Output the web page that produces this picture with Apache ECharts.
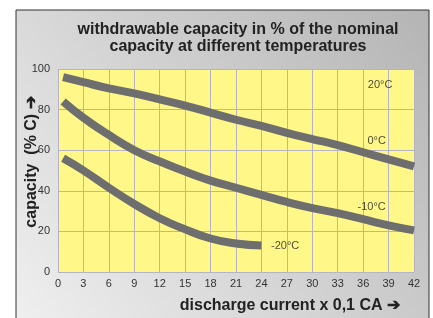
<!DOCTYPE html>
<html>
<head>
<meta charset="utf-8">
<script src="https://cdn.jsdelivr.net/npm/echarts@6/dist/echarts.min.js"></script>
<style>
html, body { margin: 0; padding: 0; background: #fff; }
#chart { width: 433px; height: 318px; }
</style>
</head>
<body>
<div id="chart"></div>
<script>
var xTicks = [0, 3, 6, 9, 12, 15, 18, 21, 24, 27, 30, 33, 36, 39, 42];
var yTicks = [0, 20, 40, 60, 80, 100];

// capacity curves: [discharge current, capacity %]
var curveA = [[0.6, 96], [3, 93.5], [6, 90.5], [9, 88], [12, 85], [15, 82], [18, 78.5], [21, 75],
    [24, 72], [27, 68.5], [30, 65.5], [33, 62.5], [36, 59], [39, 55.5], [42, 52]];
var curveB = [[0.6, 84], [3, 76], [6, 67.5], [9, 60], [12, 54.5], [15, 49.5], [18, 45], [21, 41.5],
    [24, 38], [27, 34.5], [30, 31.5], [33, 29], [36, 26], [39, 23], [42, 20.5]];
var curveC = [[0.6, 56], [3, 50], [6, 41.5], [9, 33.5], [12, 26.5], [15, 21], [18, 16.5], [21, 14], [24, 13]];

var tempLabels = ['20°C', '0°C', '-10°C', '-20°C'];
var labelX = [38, 37.6, 37, 26.8];
var labelY = [92, 64.5, 32, 12.8];

var labelData = tempLabels.map(function (t, i) { return [labelX[i], labelY[i], t]; });

var myChart = echarts.init(document.getElementById('chart'));
var lineStyle = { color: '#6e6e6e', width: 8, cap: 'butt' };

option = {
    animation: false,
    graphic: [{
        type: 'rect',
        z: -10,
        shape: { x: 16, y: 10, width: 413, height: 320 },
        style: {
            stroke: '#333',
            lineWidth: 1,
            fill: new echarts.graphic.LinearGradient(0, 1, 1, 0, [
                { offset: 0, color: '#f0f0f0' },
                { offset: 1, color: '#b4b4b4' }
            ])
        }
    }, {
        // yellow plot area
        type: 'rect',
        z: -5,
        shape: { x: 58, y: 69, width: 356, height: 203 },
        style: { fill: '#fff889' }
    }, {
        type: 'text',
        x: 32,
        y: 162,
        rotation: Math.PI / 2,
        style: {
            text: 'capacity  (% C) ➔',
            font: 'bold 16px "Liberation Sans"',
            fill: '#222',
            align: 'center',
            verticalAlign: 'middle'
        }
    }],
    title: {
        text: 'withdrawable capacity in % of the nominal\ncapacity at different temperatures',
        left: 233,
        top: 16,
        textAlign: 'center',
        textStyle: {
            fontFamily: 'Liberation Sans',
            fontSize: 16,
            fontWeight: 'bold',
            color: '#222',
            lineHeight: 17
        }
    },
    grid: { left: 58, right: 19, top: 69, bottom: 46, outerBoundsMode: 'none' },
    xAxis: {
        type: 'value',
        min: 0,
        max: 42,
        interval: 3,
        name: 'discharge current x 0,1 CA ➔',
        nameLocation: 'end',
        nameGap: 0,
        nameTextStyle: {
            fontFamily: 'Liberation Sans',
            fontSize: 16,
            fontWeight: 'bold',
            color: '#222',
            align: 'right',
            verticalAlign: 'top',
            padding: [26, 14, 0, 0]
        },
        axisLine: { show: false },
        axisTick: { show: false },
        axisLabel: { fontFamily: 'Liberation Sans', fontSize: 11, color: '#333', margin: 6 },
        splitLine: { show: true, lineStyle: { color: '#b4b4c4', width: 1 } }
    },
    yAxis: {
        type: 'value',
        min: 0,
        max: 100,
        interval: 20,
        axisLine: { show: false },
        axisTick: { show: false },
        axisLabel: { fontFamily: 'Liberation Sans', fontSize: 11, color: '#333', margin: 8 },
        splitLine: { show: true, lineStyle: { color: '#b4b4c4', width: 1 } }
    },
    series: [
        { type: 'line', data: curveA, smooth: true, symbol: 'none', lineStyle: lineStyle },
        { type: 'line', data: curveB, smooth: true, symbol: 'none', lineStyle: lineStyle },
        { type: 'line', data: curveC, smooth: true, symbol: 'none', lineStyle: lineStyle },
        {
            type: 'scatter',
            data: labelData,
            symbolSize: 0,
            label: {
                show: true,
                position: 'inside',
                formatter: function (p) { return p.data[2]; },
                fontFamily: 'Liberation Sans',
                fontSize: 11,
                color: '#222'
            }
        }
    ]
};
myChart.setOption(option);
</script>
</body>
</html>
